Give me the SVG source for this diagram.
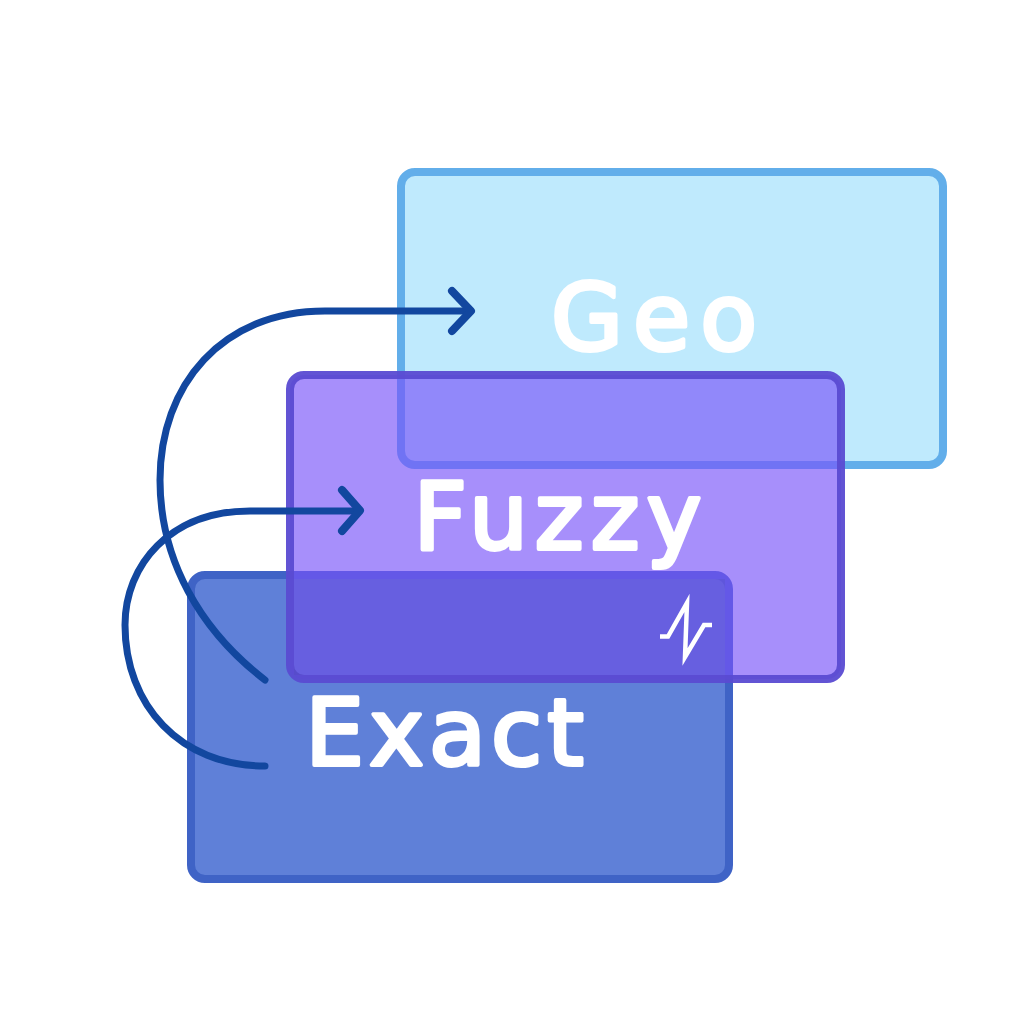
<svg xmlns="http://www.w3.org/2000/svg" width="1024" height="1024" viewBox="0 0 1024 1024">
<style>
.n{stroke-width:8}
.t{font-family:"DejaVu Sans","Liberation Sans",sans-serif;font-size:93px;fill:#fff;stroke:#fff;stroke-width:4;stroke-linejoin:round;text-anchor:middle}
.c{fill:none;stroke:#12479f;stroke-width:7;stroke-linecap:round;stroke-linejoin:round}
.h{stroke-width:8}
</style>
<rect width="1024" height="1024" fill="#fff"/>
<g id="geo"><rect class="n" x="401" y="172" width="542" height="293" rx="14" fill="#bfeafd" stroke="#62aeea"/>
<text class="t" x="659" y="350" letter-spacing="10">Geo</text></g>
<g id="exact"><rect class="n" x="191" y="575" width="538" height="304" rx="14" fill="#5f80d8" stroke="#3f63c6"/>
<text class="t" x="447" y="765" letter-spacing="5">Exact</text></g>
<g id="fuzzy"><rect class="n" x="290" y="375" width="551" height="304" rx="14" fill="#7853f9" fill-opacity=".65" stroke="#5a4bd2" stroke-opacity=".95"/>
<rect x="294" y="579" width="431" height="96" fill="#4a4fb0" fill-opacity=".2"/>
<text class="t" x="561" y="549" letter-spacing="7">Fuzzy</text>
<path d="M660 636.500H668L687 603L685 657L704 625H712" fill="none" stroke="#fff" stroke-width="4.500" stroke-miterlimit="12"/></g>
<g id="connectors">
<path class="c" d="M265 680C200 630 160 560 160 480C160 385 222 311 325 311H469"/>
<path class="c h" d="M452 291L471 311L452 331"/>
<path class="c" d="M265 766C180 766 125 705 125 625C125 565 170 511 250 511H358"/>
<path class="c h" d="M342 490L360 510.500L342 531"/>
</g>
</svg>
